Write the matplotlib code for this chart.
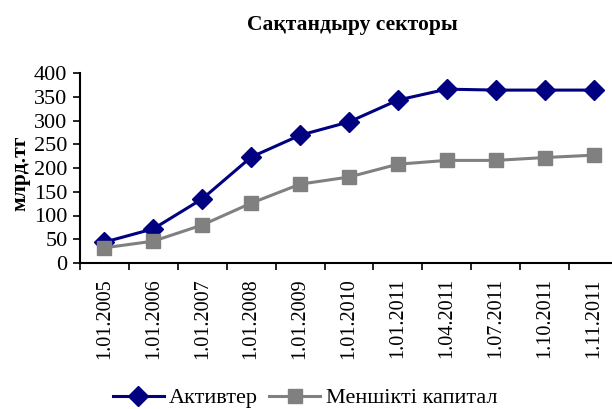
import matplotlib
matplotlib.use("Agg")
import matplotlib.pyplot as plt
import numpy as np

categories = ["1.01.2005", "1.01.2006", "1.01.2007", "1.01.2008", "1.01.2009",
              "1.01.2010", "1.01.2011", "1.04.2011", "1.07.2011", "1.10.2011", "1.11.2011"]
assets = [44, 72, 135, 223, 269, 297, 343, 366, 364, 364, 364]
equity = [32, 46, 80, 126, 166, 181, 208, 216, 216, 222, 227]

plt.rcParams['font.family'] = ['Liberation Serif', 'DejaVu Serif']

fig = plt.figure(figsize=(6.12, 4.09), dpi=100)
ax = fig.add_axes([80/612, (409-263)/409, 538/612, 190/409])
x = np.arange(len(categories))
ax.plot(x, assets, color='#000080', marker='D', markersize=10, linewidth=2.2, label='Активтер')
ax.plot(x, equity, color='#808080', marker='s', markersize=10.5, linewidth=2.2, label='Меншікті капитал')

ax.set_xlim(-0.5, len(categories) - 0.5)
ax.set_ylim(0, 400)
ax.set_yticks(range(0, 401, 50))
ax.set_xticks(x)
ax.set_xticklabels(categories, rotation=90, fontsize=14.5)
ax.set_xticks(np.arange(-0.5, len(categories), 1), minor=True)
ax.tick_params(axis='x', which='major', length=0, pad=11)
ax.tick_params(axis='x', which='minor', length=5, width=1.2, direction='out')
ax.tick_params(axis='y', labelsize=16, length=5, width=1.2, direction='out', pad=4)
for s in ['top', 'right']:
    ax.spines[s].set_visible(False)
for s in ['left', 'bottom']:
    ax.spines[s].set_linewidth(1.5)
ax.set_ylabel('млрд.тг', fontsize=15.5, fontweight='bold')
ax.yaxis.set_label_coords(-0.092, 0.47)

fig.text(352/612, 1 - 25/409, 'Сақтандыру секторы', ha='center', va='center', fontsize=15.5, fontweight='bold')
fig.legend(loc='center', bbox_to_anchor=(305/612, 1 - 398/409), ncol=2, frameon=False, fontsize=16,
           handlelength=2.3, columnspacing=0.5, handletextpad=0.25, borderpad=0, borderaxespad=0)

fig.savefig('out.png', dpi=100)
